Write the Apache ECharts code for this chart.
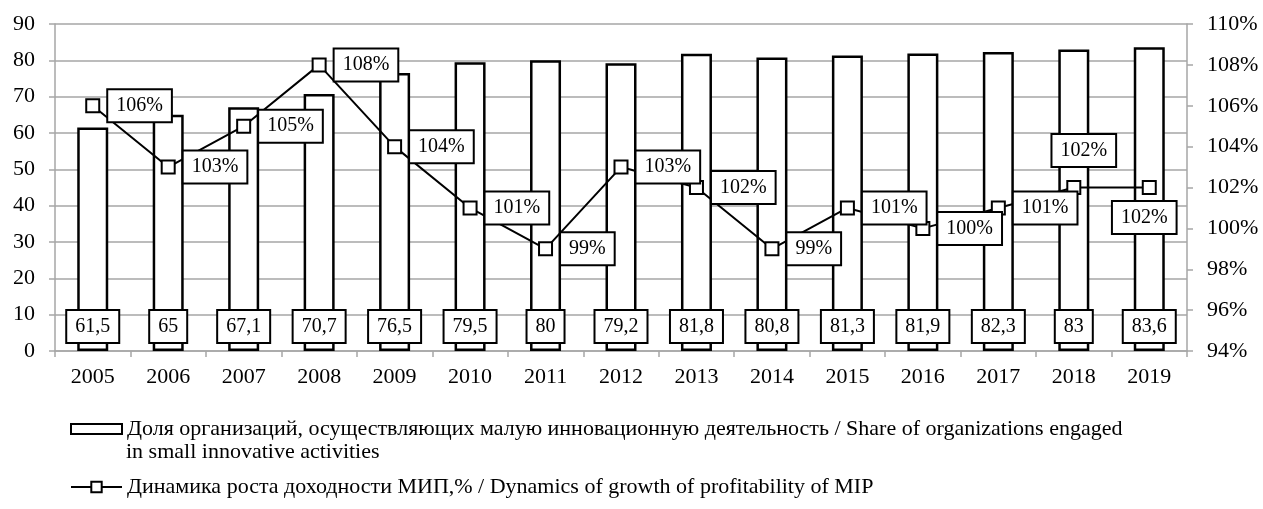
<!DOCTYPE html>
<html>
<head>
<meta charset="utf-8">
<script src="https://cdn.jsdelivr.net/npm/echarts@6/dist/echarts.min.js"></script>
<style>html,body{margin:0;padding:0;background:#fff}#c{width:1263px;height:509px}</style>
</head>
<body>
<div id="c"></div>
<script>
const years = ['2005','2006','2007','2008','2009','2010','2011','2012','2013','2014','2015','2016','2017','2018','2019'];
const shareValues = [61.5,65,67.1,70.7,76.5,79.5,80,79.2,81.8,80.8,81.3,81.9,82.3,83,83.6];
const growthValues = [106,103,105,108,104,101,99,103,102,99,101,100,101,102,102];
const leftTicks = {min:0, max:90, interval:10};
const rightTicks = {min:94, max:110, interval:2};
const barName = 'Доля организаций, осуществляющих малую инновационную деятельность / Share of organizations engaged';
const barName2 = 'in small innovative activities';
const lineName = 'Динамика роста доходности МИП,% / Dynamics of growth of profitability of MIP';

const FONT = 'Liberation Serif';
const LEG_FS = 22;
const chart = echarts.init(document.getElementById('c'));
const boxLabel = {
  fontFamily: FONT, fontSize: 20, color: '#000',
  backgroundColor: '#fff', borderColor: '#000', borderWidth: 2,
  padding: [6, 8, 5, 8]
};
const lineLabelOverrides = {
  13: {position: 'top', distance: 14, offset: [10, 0]},
  14: {position: 'bottom', distance: 7, offset: [-5, 0]}
};
const lineData = growthValues.map((v, i) => {
  const o = {value: v};
  if (lineLabelOverrides[i]) o.label = lineLabelOverrides[i];
  return o;
});
chart.setOption({
  animation: false,
  grid: {left: 55, right: 76, top: 24, bottom: 158},
  legend: [
    {data: [{name: barName, icon: 'rect'}], left: 70, top: 418, orient: 'vertical',
     padding: 0, itemWidth: 51, itemHeight: 10, itemGap: 5,
     textStyle: {fontFamily: FONT, fontSize: LEG_FS, color: '#000'}},
    {data: [{name: lineName}], left: 70, top: 476, orient: 'vertical',
     padding: 0, itemWidth: 51, itemHeight: 13,
     textStyle: {fontFamily: FONT, fontSize: LEG_FS, color: '#000'}}
  ],
  graphic: [{type: 'text', left: 126, top: 441,
    style: {text: barName2, font: LEG_FS + 'px "Liberation Serif"', fill: '#000'}}],
  xAxis: {
    type: 'category', data: years,
    axisLine: {lineStyle: {color: '#a6a6a6', width: 1.5}},
    axisTick: {show: true, length: 6, lineStyle: {color: '#a6a6a6', width: 1.5}},
    axisLabel: {fontFamily: FONT, fontSize: 22, color: '#000', margin: 15}
  },
  yAxis: [
    {type: 'value', min: leftTicks.min, max: leftTicks.max, interval: leftTicks.interval,
     axisLine: {show: true, lineStyle: {color: '#a6a6a6', width: 1.5}},
     axisTick: {show: true, length: 6, lineStyle: {color: '#a6a6a6', width: 1.5}},
     splitLine: {lineStyle: {color: '#a6a6a6', width: 1.5}},
     axisLabel: {fontFamily: FONT, fontSize: 22, color: '#000', margin: 20}},
    {type: 'value', min: rightTicks.min, max: rightTicks.max, interval: rightTicks.interval,
     axisLine: {show: true, lineStyle: {color: '#a6a6a6', width: 1.5}},
     axisTick: {show: true, length: 6, lineStyle: {color: '#a6a6a6', width: 1.5}},
     splitLine: {show: false},
     axisLabel: {fontFamily: FONT, fontSize: 22, color: '#000', margin: 20, formatter: v => v + '%'}}
  ],
  series: [
    {name: barName, type: 'bar', data: shareValues, barWidth: 31,
     itemStyle: {color: '#fff', borderColor: '#000', borderWidth: 2.5},
     label: Object.assign({show: true, position: 'insideBottom', distance: 9,
       formatter: p => String(p.value).replace('.', ',')}, boxLabel)},
    {name: lineName, type: 'line', yAxisIndex: 1, data: lineData,
     symbol: 'rect', symbolSize: 13,
     lineStyle: {color: '#000', width: 2},
     itemStyle: {color: '#fff', borderColor: '#000', borderWidth: 2},
     label: Object.assign({show: true, position: 'right', distance: 8,
       formatter: p => p.value + '%'}, boxLabel),
     z: 5}
  ]
});
</script>
</body>
</html>
